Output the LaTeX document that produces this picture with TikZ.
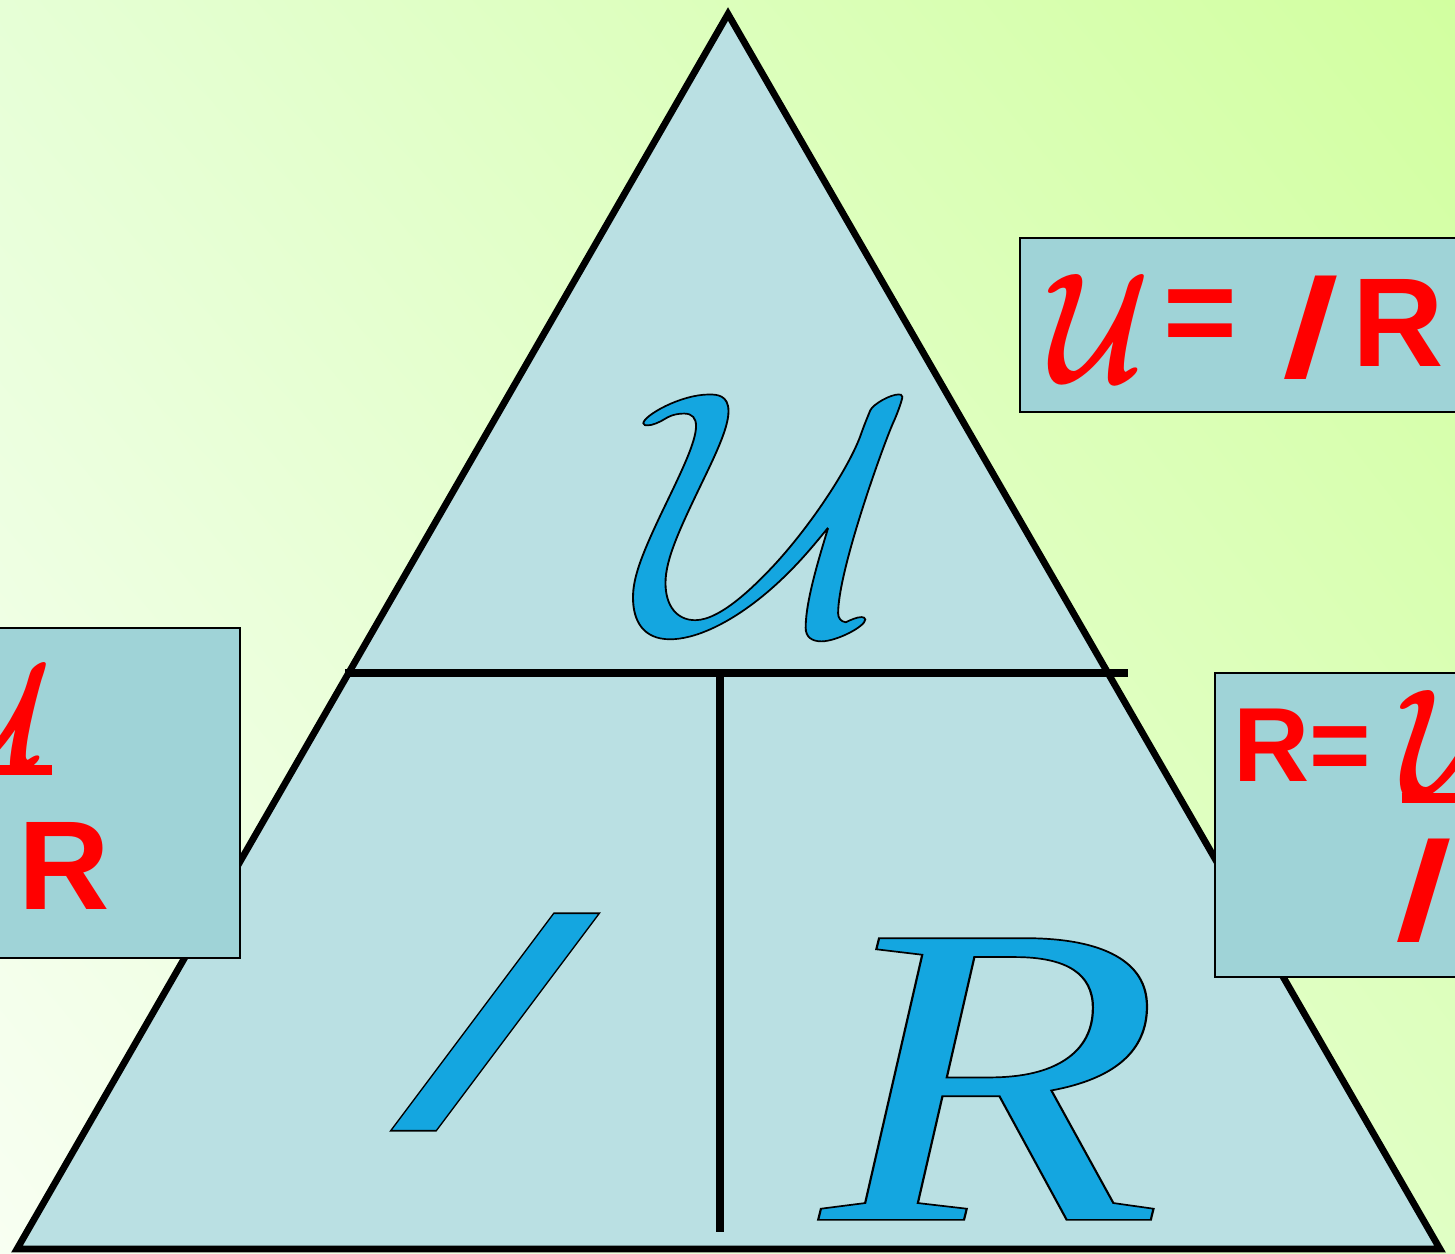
\RequirePackage{fix-cm}
\documentclass[tikz,border=0pt]{standalone}
\usepackage{fontspec}
\setmainfont{Liberation Serif}
\newfontfamily\arialfam{Liberation Sans}
\usetikzlibrary{positioning, shadings}
\definecolor{bgTL}{HTML}{E6FFD6}
\definecolor{bgTR}{HTML}{D2FFA0}
\definecolor{bgBL}{HTML}{F8FFF2}
\definecolor{bgBR}{HTML}{E0FFC4}
\definecolor{trifill}{HTML}{BAE0E3}
\definecolor{boxfill}{HTML}{9FD3D7}
\definecolor{glyphblue}{HTML}{14A6E0}
% filled glyphs with a thin black outline
\newcommand\outl[1]{\special{pdf:literal direct 0 0 0 RG 1.2 w 2 Tr}#1\special{pdf:literal direct 0 Tr}}

\begin{document}
\begin{tikzpicture}[x=0.25mm, y=-0.25mm,
  edge/.style={line width=4.8pt, line join=miter},
  bar/.style={line width=5.6pt},
  box/.style={draw=black, line width=1.8pt, fill=boxfill},
  bluetxt/.style={inner sep=0pt, text=glyphblue},
  redtxt/.style={inner sep=0pt, text=red, font=\arialfam\bfseries\fontsize{90}{90}\selectfont},
  redU/.style={inner sep=0pt, text=red, xscale=0.78, font=\fontsize{112}{112}\selectfont\boldmath},
  redI/.style={inner sep=0pt, text=red, xslant=0.3, font=\arialfam\bfseries\fontsize{107}{107}\selectfont},
  underbar/.style={red, line width=7pt}]
  \useasboundingbox (0,0) rectangle (1455,1254);
  \clip (0,0) rectangle (1455,1254);

  % Background
  \shade[upper left=bgTL, upper right=bgTR, lower left=bgBL, lower right=bgBR] (0,0) rectangle (1455,1254);

  % Triangle
  \coordinate (top) at (728,14);
  \coordinate (bl) at (17,1249);
  \coordinate (br) at (1440,1249);
  \draw[edge, fill=trifill] (top) -- (bl) -- (br) -- cycle;

  % Dividers
  \coordinate (hl) at (345,673);
  \coordinate (hr) at (1128,673);
  \coordinate (vt) at (720,673);
  \coordinate (vb) at (720,1232);
  \draw[bar] (hl) -- (hr);
  \draw[bar] (vt) -- (vb);

  % Letters in the triangle
  \node[bluetxt, xscale=1.1] (U) at (778,513) {\fontsize{247}{250}\selectfont\outl{$\mathcal{U}$}};
  \node[bluetxt, xslant=0.75] (I) at (495,1022) {\arialfam\bfseries\fontsize{225}{225}\selectfont\outl{I}};
  \node[bluetxt, xscale=1.3] (R) at (992,1079) {\itshape\fontsize{306}{306}\selectfont\outl{R}};

  % Box U = IR
  \draw[box] (1020,238) rectangle (1462,412);
  \node[redU] (topU) at (1100,328) {$\mathcal{U}$};
  \node[redtxt] (topEq) at (1200,323) {=};
  \node[redI] (topI) at (1311,328) {I};
  \node[redtxt] (topR) at (1398,323) {R};

  % Box I = U/R
  \draw[box] (-8,628) rectangle (240,958);
  \node[redU] (leftU) at (2,716) {$\mathcal{U}$};
  \draw[underbar] (leftU.south west) -- (leftU.south east);
  \node[redtxt] (leftR) at (64,866) {R};

  % Box R = U/I
  \draw[box] (1215,673) rectangle (1462,977);
  \node[redtxt, font=\arialfam\bfseries\fontsize{75}{75}\selectfont] (rightR) at (1302,745) {R=};
  \node[redU] (rightU) at (1452,744) {$\mathcal{U}$};
  \draw[underbar] (rightU.south west) -- (rightU.south east);
  \node[redI] (rightI) at (1424,891) {I};
\end{tikzpicture}
\end{document}
